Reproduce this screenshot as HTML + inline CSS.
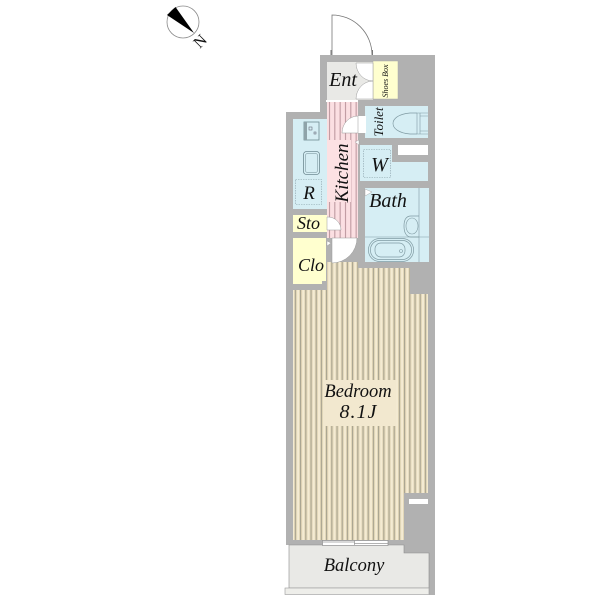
<!DOCTYPE html>
<html><head><meta charset="utf-8"><style>html,body{margin:0;padding:0;background:#fff}svg{display:block}text{font-family:"Liberation Serif",serif;font-style:italic;fill:#111}</style></head><body>
<svg width="600" height="600" viewBox="0 0 600 600" xmlns="http://www.w3.org/2000/svg">
<defs>
<pattern id="fl" x="293" y="0" width="5.2" height="10" patternUnits="userSpaceOnUse">
<rect width="5.2" height="10" fill="#f4ebd3"/><rect x="1" width="1" height="10" fill="#dfd3b3"/><rect x="2" width="1" height="10" fill="#9d9986"/><rect x="3" width="1" height="10" fill="#dfd3b3"/>
</pattern>
<pattern id="pk" x="327" y="0" width="5.33" height="10" patternUnits="userSpaceOnUse">
<rect width="5.33" height="10" fill="#fbdfe2"/><rect x="2" width="1" height="10" fill="#b9939a"/>
</pattern>
</defs>
<!-- walls -->
<polygon points="320,55 435,55 435,595 429,595 429,553 404,553 404,545 286,545 286,112 320,112" fill="#b1b1b1"/>
<!-- balcony -->
<polygon points="289,545 404,545 404,553 429,553 429,588 289,588" fill="#e9e9e6" stroke="#8d8d8d" stroke-width=".6"/>
<rect x="285" y="588" width="144" height="6.5" fill="#eeeeea" stroke="#9a9a9a" stroke-width=".6"/>
<!-- floor -->
<polygon points="332,262 358,262 358,268 410,268 410,294 428,294 428,493 404,493 404,540 293,540 293,290 327,290 327,262" fill="url(#fl)"/>
<rect x="323" y="380" width="73" height="46" fill="#f2e8cf"/>
<!-- window -->
<rect x="322.500" y="540.500" width="65.500" height="5" fill="#fff" stroke="#8d8d8d" stroke-width=".7"/>
<line x1="323" y1="542" x2="355" y2="542" stroke="#999" stroke-width=".7"/>
<line x1="354" y1="543.500" x2="388" y2="543.500" stroke="#999" stroke-width=".7"/>
<line x1="354.500" y1="540" x2="354.500" y2="545" stroke="#999" stroke-width=".7"/>
<!-- vent -->
<rect x="409" y="499" width="19" height="5" fill="#fff"/>
<!-- kitchen -->
<rect x="327" y="102" width="31" height="136" fill="url(#pk)"/>
<rect x="327" y="140" width="24" height="62" fill="#fce1e3"/>
<!-- entrance -->
<rect x="327" y="62" width="46" height="38" fill="#e9e9e6"/>
<rect x="326" y="100" width="32" height="2" fill="#fff"/>
<rect x="373" y="61" width="25" height="38" fill="#ffffcf" stroke="#aaa" stroke-width=".5"/>
<path d="M356,63H373V81A17,18 0 0 1 356,63Z M356,99H373V81A17,18 0 0 0 356,99Z" fill="#fff" stroke="#999" stroke-width=".5"/>
<!-- outside door -->
<rect x="331" y="50" width="41" height="5" fill="#fff"/>
<path d="M332,55V15A40,40 0 0 1 372,55" fill="#fff" stroke="#777" stroke-width=".8"/>
<line x1="331" y1="55" x2="331" y2="50" stroke="#777"/><line x1="372.500" y1="55" x2="372.500" y2="50" stroke="#777"/>
<!-- toilet -->
<rect x="365" y="106" width="63" height="32" fill="#d6eef4"/>
<rect x="358" y="116" width="8" height="17" fill="#fff"/>
<path d="M358,116V133H342A16,17 0 0 1 358,116Z" fill="#fff" stroke="#999" stroke-width=".5"/>
<path d="M417,113H410C398,114 393,119 393,123.500C393,128 398,133 410,134H417" fill="none" stroke="#7f9aa2" stroke-width=".7"/>
<path d="M417,113V134M420,113V134M428,113H417M428,134H417M420,116H428M420,131H428" stroke="#7f9aa2" stroke-width=".6" fill="none"/>
<rect x="398" y="145" width="30" height="10" fill="#fff"/>
<!-- W -->
<polygon points="360,145 392,145 392,162 428,162 428,181 360,181" fill="#d6eef4"/>
<rect x="363.500" y="149.500" width="27" height="28" fill="none" stroke="#8ba3aa" stroke-width=".6" stroke-dasharray="1.500 1"/>
<polygon points="355,142 359,140 359,145" fill="#fff" stroke="#999" stroke-width=".4"/>
<!-- bath -->
<rect x="365" y="188" width="64" height="74" fill="#d6eef4"/>
<path d="M419,188V262M365,237H429" stroke="#7f9aa2" stroke-width=".6" fill="none"/>
<polygon points="365,189 372,192 365,196" fill="#fff" stroke="#999" stroke-width=".4"/>
<rect x="368.500" y="238.500" width="45" height="23" rx="11" fill="none" stroke="#7f9aa2" stroke-width=".7"/>
<rect x="370.500" y="240.500" width="41" height="19" rx="9" fill="none" stroke="#7f9aa2" stroke-width=".7"/>
<rect x="375" y="243" width="30" height="14" rx="6" fill="none" stroke="#7f9aa2" stroke-width=".7"/>
<circle cx="401" cy="251" r="1.500" fill="none" stroke="#7f9aa2" stroke-width=".6"/>
<path d="M419,216H411C406,216 404,220 404,226C404,232 406,237 411,237H419" fill="none" stroke="#7f9aa2" stroke-width=".7"/>
<ellipse cx="412" cy="226" rx="6" ry="8" fill="none" stroke="#7f9aa2" stroke-width=".6"/>
<!-- kitchen units -->
<rect x="293" y="119" width="34" height="90" fill="#d6eef4"/>
<rect x="304" y="122" width="15" height="18" fill="none" stroke="#6f8a92" stroke-width=".8"/>
<rect x="304" y="122" width="3" height="18" fill="#8fa3a9"/>
<rect x="309" y="127" width="3" height="3" fill="none" stroke="#556" stroke-width=".5"/>
<rect x="314" y="132" width="2" height="2" fill="none" stroke="#556" stroke-width=".5"/>
<rect x="303.500" y="151.500" width="16" height="23" rx="3" fill="none" stroke="#6f8a92" stroke-width=".8"/>
<rect x="305.500" y="153.500" width="12" height="19" rx="2" fill="none" stroke="#6f8a92" stroke-width=".5"/>
<rect x="295.500" y="179.500" width="26" height="25" fill="none" stroke="#8ba3aa" stroke-width=".6" stroke-dasharray="1.500 1"/>
<!-- sto clo -->
<rect x="293" y="215" width="34" height="17" fill="#ffffcf"/>
<path d="M327,217H328A13,13 0 0 1 341,230H327Z" fill="#fff" stroke="#999" stroke-width=".5"/>
<polygon points="293,238 326,238 326,281 322,281 322,284 293,284" fill="#ffffcf"/>
<path d="M332,238H357A25,25 0 0 1 332,263Z" fill="#fff" stroke="#999" stroke-width=".5"/>
<polygon points="327,241 331,243 327,246" fill="#fff" stroke="#999" stroke-width=".4"/>
<!-- compass -->
<circle cx="183" cy="22" r="16" fill="#fff" stroke="#8a8a8a" stroke-width=".8"/>
<polygon points="175.500,7 167,15 194,33" fill="#000"/>
<text font-size="16" text-anchor="middle" transform="translate(200,41) rotate(-45) translate(0,5.500)" style="font-style:normal">N</text>
<!-- labels -->
<text x="343" y="86" font-size="20" text-anchor="middle">Ent</text>
<text transform="translate(388,81) rotate(-90)" font-size="8" text-anchor="middle">Shoes Box</text>
<text transform="translate(383,122) rotate(-90)" font-size="13" text-anchor="middle">Toilet</text>
<text transform="translate(348,173) rotate(-90)" font-size="19" text-anchor="middle">Kitchen</text>
<text x="379.500" y="171" font-size="20" text-anchor="middle">W</text>
<text x="388" y="207" font-size="20" text-anchor="middle">Bath</text>
<text x="309" y="199" font-size="19" text-anchor="middle">R</text>
<text x="308.500" y="229" font-size="18" text-anchor="middle">Sto</text>
<text x="311" y="271" font-size="18" text-anchor="middle">Clo</text>
<text x="358" y="397" font-size="18.500" text-anchor="middle">Bedroom</text>
<text x="358.500" y="418" font-size="20" text-anchor="middle" letter-spacing="1">8.1J</text>
<text x="354" y="571" font-size="18.500" text-anchor="middle">Balcony</text>
</svg>
</body></html>
